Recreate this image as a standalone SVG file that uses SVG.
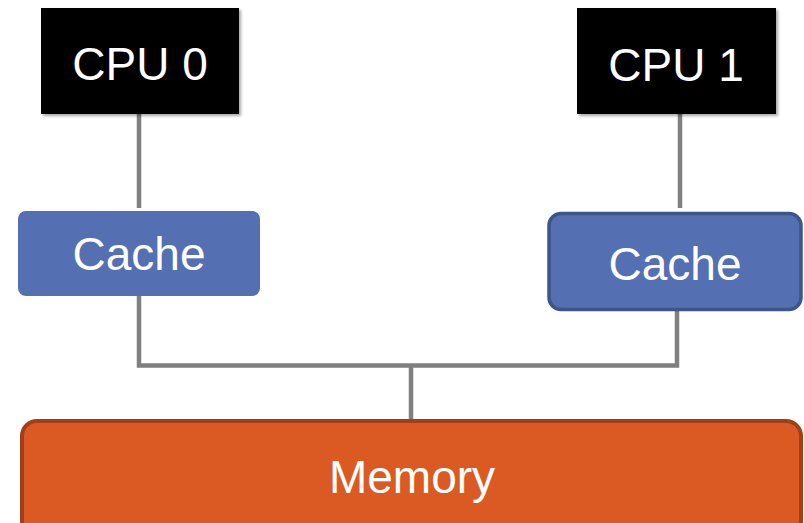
<svg xmlns="http://www.w3.org/2000/svg" width="804" height="523" viewBox="0 0 804 523">
  <defs>
    <filter id="shadow" x="-10%" y="-10%" width="125%" height="125%">
      <feGaussianBlur in="SourceAlpha" stdDeviation="1.5"/>
      <feOffset dx="2" dy="2" result="b"/>
      <feComponentTransfer><feFuncA type="linear" slope="0.35"/></feComponentTransfer>
      <feMerge><feMergeNode/><feMergeNode in="SourceGraphic"/></feMerge>
    </filter>
  </defs>
  <style>
    .label { font-family: "Liberation Sans", Arial, sans-serif; font-size: 46px; fill: #ffffff; text-anchor: middle; }
    .cpu { fill: #000000; }
    .cache { fill: #5470b2; }
    .wire { fill: none; stroke: #7f7f7f; stroke-width: 4.5; }
  </style>

  <!-- bus wiring -->
  <g id="connectors">
    <line class="wire" x1="139" y1="114" x2="139" y2="208"/>
    <line class="wire" x1="680" y1="114" x2="680" y2="208"/>
    <polyline class="wire" points="139,296 139,365.5 677,365.5 677,310"/>
    <line class="wire" x1="411" y1="365.5" x2="411" y2="420"/>
  </g>

  <g id="cpu0">
    <rect class="cpu" x="41" y="8" width="198" height="106" filter="url(#shadow)"/>
    <text class="label" x="140" y="80">CPU 0</text>
  </g>

  <g id="cpu1">
    <rect class="cpu" x="577" y="8" width="199" height="106" filter="url(#shadow)"/>
    <text class="label" x="676" y="81">CPU 1</text>
  </g>

  <g id="cache0">
    <rect class="cache" x="18" y="211" width="242" height="85" rx="8"/>
    <text class="label" x="139" y="270">Cache</text>
  </g>

  <g id="cache1">
    <rect class="cache" x="549" y="213.5" width="252" height="96" rx="12" stroke="#3d5589" stroke-width="3.5"/>
    <text class="label" x="675" y="280">Cache</text>
  </g>

  <g id="memory">
    <rect x="22" y="421" width="779" height="115" rx="15" fill="#db5a23" stroke="#a33f18" stroke-width="4"/>
    <text class="label" x="412" y="493">Memory</text>
  </g>
</svg>
